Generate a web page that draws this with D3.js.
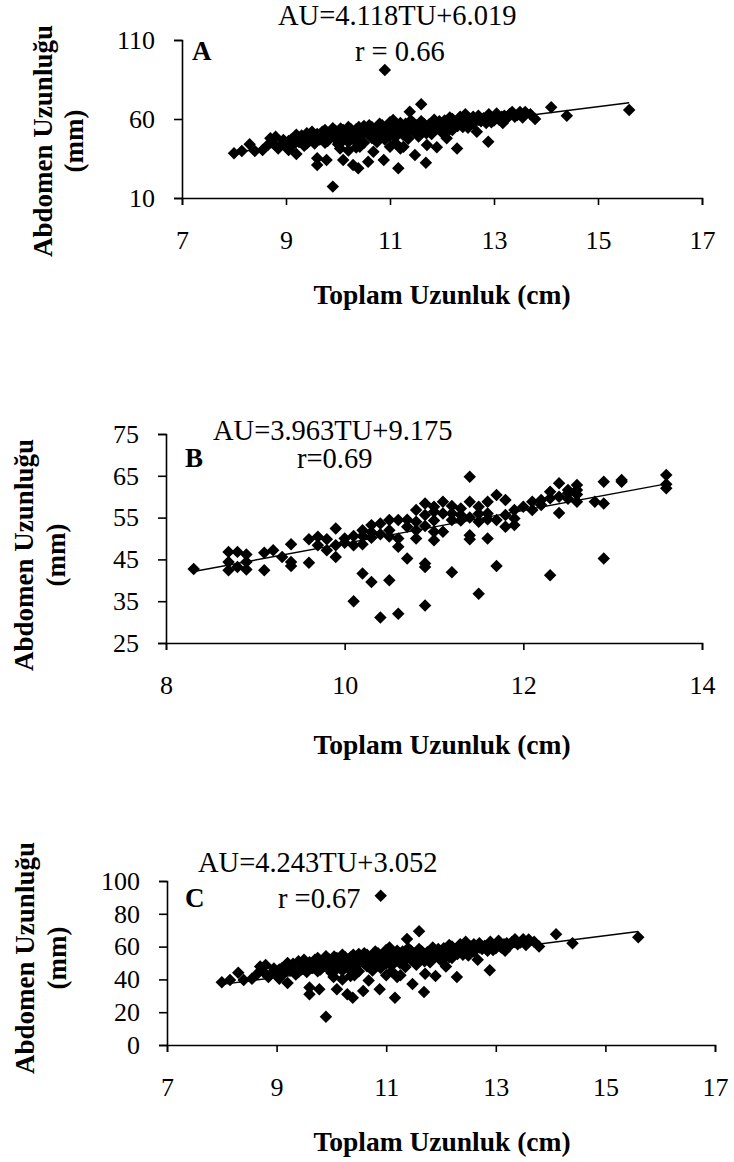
<!DOCTYPE html>
<html>
<head>
<meta charset="utf-8">
<script src="https://cdn.jsdelivr.net/npm/d3@7"></script>
<style>
  body { margin: 0; background: #fff; }
  text { font-family: "Liberation Serif", "Times New Roman", serif; fill: #000; }
</style>
</head>
<body>
<svg id="chart" width="734" height="1162"></svg>
<script>
// Toplam uzunluk (cm), abdomen uzunlugu (mm) - panels A and C share the sample
const pointsAC = [
  [8.0,38.3],[8.15,39.7],[8.3,44.0],[8.4,39.7],[8.55,40.4],[8.65,43.5],[8.7,47.8],[8.8,48.8],
  [8.85,41.4],[8.95,46.7],[9.0,44.0],[9.05,40.4],[9.1,47.0],[9.17,48.8],[9.2,37.8],[9.25,45.5],
  [9.3,49.5],[9.35,43.0],[9.4,51.0],[9.45,46.0],[9.5,48.0],[9.55,44.5],[9.6,35.1],[9.6,30.9],
  [9.6,50.5],[9.65,47.0],[9.7,52.0],[9.75,45.0],[9.78,34.0],[9.8,49.0],[9.85,51.5],[9.9,17.2],
  [9.9,54.1],[9.95,47.5],[10.0,44.0],[10.04,41.4],[10.05,50.5],[10.1,34.0],[10.1,53.0],[10.15,48.0],
  [10.2,45.5],[10.2,40.0],[10.2,55.0],[10.25,51.0],[10.29,30.9],[10.3,47.0],[10.35,53.5],[10.35,42.0],
  [10.39,28.8],[10.42,42.5],[10.45,49.5],[10.5,55.5],[10.5,45.0],[10.55,51.5],[10.58,33.0],[10.6,56.0],
  [10.65,48.0],[10.68,39.3],[10.7,53.0],[10.75,45.5],[10.8,50.0],[10.8,57.0],[10.85,54.0],[10.88,34.0],
  [10.9,91.0],[10.9,47.0],[10.95,52.0],[11.0,58.0],[11.0,49.5],[11.0,42.5],[11.05,55.0],[11.06,59.4],
  [11.1,45.0],[11.1,52.5],[11.16,28.8],[11.2,57.5],[11.2,41.4],[11.25,50.0],[11.26,42.5],[11.3,54.5],
  [11.35,47.5],[11.38,64.6],[11.4,59.0],[11.45,52.0],[11.48,37.2],[11.5,56.0],[11.55,49.0],[11.6,69.3],
  [11.6,58.5],[11.65,53.5],[11.69,32.3],[11.71,43.5],[11.75,56.5],[11.8,50.5],[11.85,59.5],[11.9,42.1],
  [11.9,54.0],[11.95,57.0],[12.0,51.5],[12.05,59.0],[12.09,47.8],[12.1,55.5],[12.15,61.0],[12.2,53.0],
  [12.25,58.0],[12.29,41.4],[12.3,55.5],[12.35,61.5],[12.4,57.5],[12.45,63.0],[12.5,54.5],[12.55,60.0],
  [12.6,57.0],[12.67,52.0],[12.7,62.0],[12.75,58.5],[12.8,60.5],[12.89,45.6],[12.9,63.0],[12.95,58.0],
  [13.0,61.0],[13.05,63.5],[13.1,59.5],[13.17,57.5],[13.2,62.0],[13.3,63.0],[13.4,61.5],[13.5,64.5],
  [13.6,64.4],[13.79,60.0],[14.1,67.5],[14.4,62.0],[15.6,65.7],
  [8.75,45.0],[8.9,43.5],[9.05,46.0],[9.15,44.0],[9.2,50.0],[9.3,46.5],[9.4,44.5],[9.45,49.0],
  [9.5,52.0],[9.55,47.5],[9.65,50.0],[9.7,48.0],[9.75,53.0],[9.8,46.0],[9.9,50.0],[9.95,52.5],
  [10.0,48.5],[10.05,54.0],[10.1,46.5],[10.1,51.0],[10.2,49.5],[10.25,53.5],[10.3,50.5],[10.4,55.0],
  [10.4,47.5],[10.45,52.0],[10.55,54.0],[10.6,50.0],[10.65,55.0],[10.7,47.5],[10.75,51.5],[10.85,56.0],
  [10.9,49.5],[10.95,54.5],[11.0,51.0],[11.05,57.0],[11.1,48.5],[11.15,55.0],[11.2,52.0],[11.3,57.0],
  [11.3,50.5],[11.4,54.0],[11.45,57.5],[11.5,51.5],[11.55,55.0],[11.65,57.0],[11.7,51.0],[11.8,55.5],
  [11.85,53.0],[11.95,58.5],[12.0,55.0],[12.1,57.5],[12.15,53.5],[12.2,60.0],[12.3,57.5],[12.4,55.0],
  [12.45,59.5],[12.55,56.5],[12.6,61.5],[12.7,59.5],[12.85,57.5],[12.9,61.0],[13.0,59.0],[13.15,61.5],
  [13.25,60.5],[13.35,64.5],[13.45,62.5],[13.55,61.0],[13.7,63.0]
];

const pointsB = [
  [8.31,42.7],[8.7,46.8],[8.7,44.4],[8.7,42.4],[8.8,46.8],[8.8,43.2],[8.9,46.2],[8.9,44.4],
  [8.9,42.6],[9.1,42.4],[9.1,46.6],[9.2,47.2],[9.3,45.6],[9.4,48.6],[9.4,44.4],[9.4,43.4],
  [9.6,44.2],[9.6,49.8],[9.7,48.4],[9.7,50.4],[9.8,47.2],[9.8,49.8],[9.9,52.4],[9.9,48.4],
  [9.9,45.6],[10.0,50.0],[10.0,49.0],[10.1,48.4],[10.1,50.6],[10.1,35.0],[10.2,41.6],[10.2,52.0],
  [10.2,50.6],[10.2,48.6],[10.3,39.6],[10.3,53.2],[10.3,50.2],[10.4,31.1],[10.4,53.6],[10.4,51.0],
  [10.5,40.0],[10.5,54.4],[10.5,52.0],[10.6,32.0],[10.6,50.0],[10.6,54.4],[10.6,48.0],[10.7,45.2],
  [10.7,52.8],[10.8,50.0],[10.8,56.8],[10.8,54.0],[10.9,58.4],[10.9,34.0],[10.9,43.2],[10.9,44.0],
  [10.9,55.6],[10.9,53.0],[11.0,49.6],[11.0,56.4],[11.0,54.3],[11.0,51.6],[11.1,58.8],[11.1,51.6],
  [11.1,56.0],[11.2,41.9],[11.2,56.0],[11.2,54.4],[11.3,57.2],[11.3,54.3],[11.4,64.8],[11.4,58.8],
  [11.4,55.0],[11.4,50.8],[11.4,49.8],[11.5,36.8],[11.5,57.6],[11.5,55.9],[11.6,58.8],[11.6,56.0],
  [11.6,50.0],[11.7,60.4],[11.7,54.4],[11.7,43.4],[11.8,59.2],[11.8,52.8],[11.9,56.8],[11.9,53.2],
  [11.9,54.8],[12.1,58.8],[12.1,56.8],[12.2,59.2],[12.3,61.2],[12.3,41.2],[12.4,63.2],[12.4,56.1],
  [12.4,60.0],[12.5,61.6],[12.5,59.5],[12.6,62.8],[12.6,58.8],[12.6,60.5],[12.8,58.8],[12.9,58.4],
  [12.9,63.6],[12.9,45.2],[13.1,63.6],[13.1,64.0],[13.6,65.2],[13.6,62.0],[13.6,63.0],
  [10.3,51.5],[10.5,50.5],[10.7,54.5],[10.8,52.0],[11.0,57.6],[11.2,57.8],[11.3,55.6],[11.5,54.0],
  [11.6,54.6],[11.8,55.6],[12.0,57.6],[12.2,58.0],[12.3,59.6],[12.5,60.8],[12.6,61.6]
];

// regression: [slope, intercept]
const fitA = [4.118, 6.019];
const fitB = [3.963, 9.175];
const fitC = [4.243, 3.052];

const xTicksA = [7, 9, 11, 13, 15, 17];
const yTicksA = [10, 60, 110];
const xTicksB = [8, 10, 12, 14];
const yTicksB = [25, 35, 45, 55, 65, 75];
const xTicksC = [7, 9, 11, 13, 15, 17];
const yTicksC = [0, 20, 40, 60, 80, 100];

const eqLabels = ["AU=4.118TU+6.019", "AU=3.963TU+9.175", "AU=4.243TU+3.052"];
const rLabels = ["r = 0.66", "r=0.69", "r =0.67"];
const panelLetters = ["A", "B", "C"];

const xTitle = "Toplam Uzunluk (cm)";
const yTitle1 = "Abdomen Uzunluğu";
const yTitle2 = "(mm)";

const svg = d3.select("#chart");

const panels = [
  { letter: 0, pts: pointsAC, fit: fitA, xt: xTicksA, yt: yTicksA,
    x0: 182, x1: 702, y0: 198, y1: 40,
    eq: [278, 25], lt: [192, 60], rt: [355, 61], yl: [52, 83, 141], xl: 304 },
  { letter: 1, pts: pointsB, fit: fitB, xt: xTicksB, yt: yTicksB,
    x0: 166, x1: 702, y0: 643, y1: 434,
    eq: [213, 440], lt: [185, 467], rt: [297, 468], yl: [33, 65, 555], xl: 754 },
  { letter: 2, pts: pointsAC, fit: fitC, xt: xTicksC, yt: yTicksC,
    x0: 167, x1: 715, y0: 1045, y1: 881,
    eq: [198, 872], lt: [185, 907], rt: [278, 908], yl: [34, 66, 958], xl: 1151 }
];

const diamond = d3.symbol().type(d3.symbolSquare).size(78);

panels.forEach(p => {
  const x = d3.scaleLinear()
    .domain(d3.extent(p.xt))
    .range([p.x0, p.x1]);
  const y = d3.scaleLinear()
    .domain(d3.extent(p.yt))
    .range([p.y0, p.y1]);

  const g = svg.append("g");

  // axes
  const xAxis = g.append("g")
    .attr("transform", `translate(0, ${p.y0})`)
    .call(d3.axisBottom(x).tickValues(p.xt).tickFormat(d3.format("d"))
      .tickSizeOuter(0).tickSize(7).tickPadding(26));
  const yAxis = g.append("g")
    .attr("transform", `translate(${p.x0}, 0)`)
    .call(d3.axisLeft(y).tickValues(p.yt).tickFormat(d3.format("d"))
      .tickSizeOuter(0).tickSize(8).tickPadding(19));

  [xAxis, yAxis].forEach(a => {
    a.attr("font-family", null).attr("font-size", null);
    a.selectAll("path, line").attr("stroke", "#000").attr("stroke-width", 1.6);
    a.selectAll("text")
      .style("font-family", '"Liberation Serif", serif')
      .style("font-size", "26px")
      .attr("fill", "#000");
  });

  // points
  g.selectAll("path.pt")
    .data(p.pts)
    .enter().append("path")
    .attr("class", "pt")
    .attr("d", diamond)
    .attr("transform", d => `translate(${x(d[0])},${y(d[1])}) rotate(45)`)
    .attr("fill", "#000");

  // trend line across the sample range
  const ext = d3.extent(p.pts, d => d[0]);
  g.append("path")
    .datum(ext.map(t => [t, p.fit[0] * t + p.fit[1]]))
    .attr("d", d3.line().x(d => x(d[0])).y(d => y(d[1])))
    .attr("stroke", "#000")
    .attr("stroke-width", 1.4)
    .attr("fill", "none");

  // annotations
  g.append("text").attr("x", p.eq[0]).attr("y", p.eq[1])
    .style("font-size", "28.5px").text(eqLabels[p.letter]);
  g.append("text").attr("x", p.rt[0]).attr("y", p.rt[1])
    .style("font-size", "28.5px").text(rLabels[p.letter]);
  g.append("text").attr("x", p.lt[0]).attr("y", p.lt[1])
    .style("font-size", "27px").style("font-weight", "bold").text(panelLetters[p.letter]);

  // axis titles
  g.append("text")
    .attr("x", 442)
    .attr("y", p.xl)
    .attr("text-anchor", "middle")
    .style("font-size", "27.5px").style("font-weight", "bold")
    .text(xTitle);

  g.append("text")
    .attr("transform", `translate(${p.yl[0]}, ${p.yl[2]}) rotate(-90)`)
    .attr("text-anchor", "middle")
    .style("font-size", "27px").style("font-weight", "bold")
    .text(yTitle1);
  g.append("text")
    .attr("transform", `translate(${p.yl[1]}, ${p.yl[2]}) rotate(-90)`)
    .attr("text-anchor", "middle")
    .style("font-size", "27px").style("font-weight", "bold")
    .text(yTitle2);
});
</script>
</body>
</html>
